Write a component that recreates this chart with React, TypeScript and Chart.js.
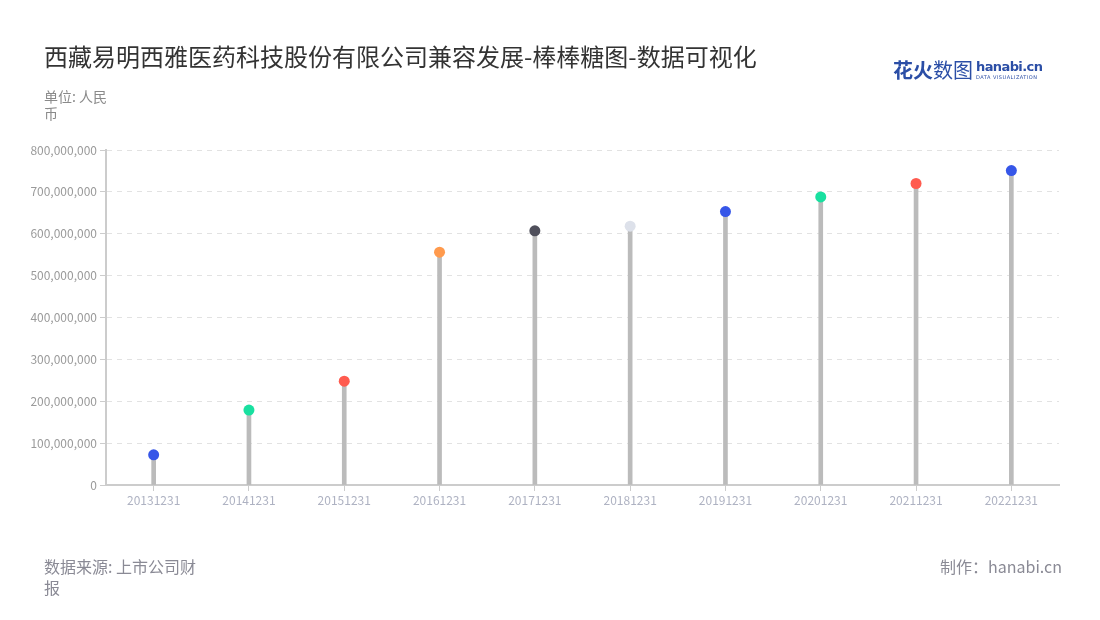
import React, { useEffect, useRef } from "react";
import { Chart, registerables } from "chart.js";

Chart.register(...registerables);

const categories = [
  "20131231", "20141231", "20151231", "20161231", "20171231",
  "20181231", "20191231", "20201231", "20211231", "20221231",
];
const values = [
  72000000, 179000000, 248000000, 556000000, 607000000,
  618000000, 653000000, 688000000, 720000000, 751000000,
];
const pointColors = [
  "#3656e8", "#19e0a0", "#ff5b4f", "#ff9a4d", "#4f4f5b",
  "#dde1ea", "#3656e8", "#19e0a0", "#ff5b4f", "#3656e8",
];
const yTicksMax = 800000000;
const yStep = 100000000;

const FONT = "'Noto Sans CJK SC', 'Noto Sans', sans-serif";

export default function App() {
  const canvasRef = useRef<HTMLCanvasElement | null>(null);

  useEffect(() => {
    if (!canvasRef.current) return;
    const chart = new Chart(canvasRef.current, {
      type: "bar",
      data: {
        labels: categories,
        datasets: [
          {
            type: "line",
            data: values,
            showLine: false,
            pointRadius: 5.5,
            pointHoverRadius: 5.5,
            pointBorderWidth: 0,
            pointBackgroundColor: pointColors,
            pointBorderColor: pointColors,
            order: 0,
          } as any,
          {
            type: "bar",
            data: values,
            backgroundColor: "#bbbbbb",
            barThickness: 4,
            order: 1,
          },
        ],
      },
      options: {
        animation: false,
        responsive: false,
        maintainAspectRatio: false,
        layout: { padding: { left: 0, right: 41, top: 150, bottom: 0 } },
        plugins: { legend: { display: false }, tooltip: { enabled: false } },
        scales: {
          x: {
            offset: true,
            grid: {
              offset: false,
              drawOnChartArea: false,
              drawTicks: true,
              tickLength: 6,
              tickColor: "#cccccc",
              lineWidth: 1,
            },
            border: { display: true, color: "#cccccc", width: 2 },
            ticks: {
              color: "#aeb2c2",
              font: { family: FONT, size: 12 },
              padding: 2,
              maxRotation: 0,
              autoSkip: false,
            },
            afterFit: (scale: any) => {
              scale.height = 135;
            },
          },
          y: {
            min: 0,
            max: yTicksMax,
            grid: {
              color: "#e2e2e2",
              tickColor: "#cccccc",
              tickLength: 6,
              lineWidth: 1,
            },
            border: { display: true, color: "#cccccc", width: 2, dash: [5, 5] },
            ticks: {
              stepSize: yStep,
              color: "#9a9a9a",
              font: { family: FONT, size: 12 },
              padding: 3,
              callback: (v: any) => Number(v).toLocaleString("en-US"),
            },
            afterFit: (scale: any) => {
              scale.width = 106;
            },
          },
        },
      },
    });
    return () => chart.destroy();
  }, []);

  return (
    <div
      style={{
        position: "absolute",
        left: 0,
        top: 0,
        width: 1100,
        height: 620,
        background: "#ffffff",
        fontFamily: FONT,
        overflow: "hidden",
      }}
    >
      <canvas
        ref={canvasRef}
        width={1100}
        height={620}
        style={{ position: "absolute", left: 0, top: 0, width: 1100, height: 620 }}
      />
      <div
        style={{
          position: "absolute",
          left: 44,
          top: 40,
          fontSize: 24,
          lineHeight: "32px",
          color: "#333333",
          whiteSpace: "nowrap",
        }}
      >
        西藏易明西雅医药科技股份有限公司兼容发展-棒棒糖图-数据可视化
      </div>
      <div
        style={{
          position: "absolute",
          left: 893,
          top: 58,
          display: "flex",
          alignItems: "center",
          whiteSpace: "nowrap",
        }}
      >
        <span style={{ fontSize: 20, fontWeight: 700, color: "#2b4ea6", lineHeight: "24px" }}>花火</span>
        <span style={{ fontSize: 20, fontWeight: 400, color: "#2b4ea6", lineHeight: "24px" }}>数图</span>
        <span style={{ display: "inline-flex", flexDirection: "column", marginLeft: 3 }}>
          <span style={{ fontSize: 13, fontWeight: 700, color: "#2b4ea6", lineHeight: "14px", fontFamily: "'DejaVu Sans', sans-serif", letterSpacing: -0.6 }}>
            hanabi.cn
          </span>
          <span style={{ fontSize: 5, color: "#2b4ea6", lineHeight: "6px", letterSpacing: 0.5, fontFamily: "'DejaVu Sans', sans-serif" }}>
            DATA VISUALIZATION
          </span>
        </span>
      </div>
      <div
        style={{
          position: "absolute",
          left: 44,
          top: 88,
          width: 72,
          fontSize: 14,
          lineHeight: "17px",
          color: "#8a8a8a",
        }}
      >
        单位: 人民币
      </div>
      <div
        style={{
          position: "absolute",
          left: 44,
          top: 556,
          width: 160,
          fontSize: 16,
          lineHeight: "21px",
          color: "#8a8a95",
        }}
      >
        数据来源: 上市公司财报
      </div>
      <div
        style={{
          position: "absolute",
          right: 38,
          top: 556,
          fontSize: 16,
          lineHeight: "21px",
          color: "#8a8a95",
          whiteSpace: "nowrap",
        }}
      >
        制作：hanabi.cn
      </div>
    </div>
  );
}
